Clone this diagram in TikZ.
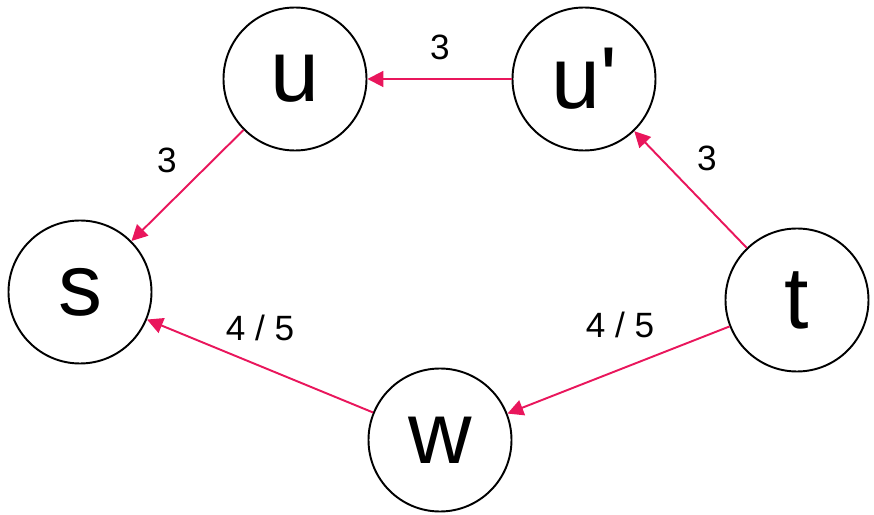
\documentclass[tikz,border=0pt]{standalone}
\usepackage{fontspec}
\setmainfont{Liberation Sans}
\usetikzlibrary{arrows.meta}
\definecolor{edgered}{RGB}{233,22,92}
\begin{document}
\begin{tikzpicture}[
    vertex/.style={draw, circle, line width=1.1pt, minimum size=2.86cm, inner sep=0pt, font=\fontsize{50}{50}\selectfont},
    edge/.style={-{Triangle[length=9pt, width=9pt]}, edgered, line width=1.1pt},
    weight/.style={font=\fontsize{20}{20}\selectfont}
  ]
    \useasboundingbox (0, 0) rectangle (17.48, 10.3);
    % Vertices
    \node[vertex] (s) at (1.6, 4.46) {s};
    \node[vertex] (u) at (5.9, 8.72) {u};
    \node[vertex] (up) at (11.68, 8.72) {u\textquotesingle};
    \node[vertex] (t) at (15.94, 4.3) {t};
    \node[vertex] (w) at (8.8, 1.5) {w};

    % Weights
    \node[weight] (wu) at (3.34, 7.1) {3};
    \node[weight] (wup) at (8.8, 9.36) {3};
    \node[weight] (wt) at (14.14, 7.14) {3};
    \node[weight] (wtw) at (12.4, 3.8) {4 / 5};
    \node[weight] (wws) at (5.2, 3.74) {4 / 5};

    \draw [edge] (u) -- (s);
    \draw [edge] (up) -- (u);
    \draw [edge] (t) -- (up);
    \draw [edge] (t) -- (w);
    \draw [edge] (w) -- (s);
\end{tikzpicture}
\end{document}
